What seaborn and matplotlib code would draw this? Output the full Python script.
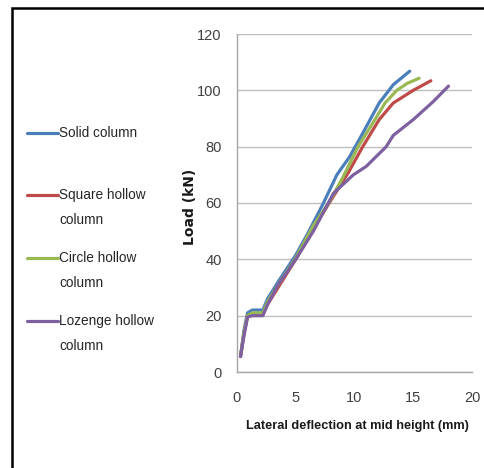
import matplotlib
matplotlib.use('Agg')
import matplotlib.pyplot as plt
from matplotlib.lines import Line2D
from matplotlib.patches import Rectangle
import numpy as np
import pandas as pd
import seaborn as sns

# Load-deflection data
series_names = ['Solid column', 'Square hollow\ncolumn', 'Circle hollow\ncolumn', 'Lozenge hollow\ncolumn']
colors = ['#4A7EBB', '#BE4B48', '#98B954', '#7D60A0']

solid_x = [0.3, 0.6, 0.9, 1.3, 2.2, 2.6, 3.5, 5.0, 6.0, 7.3, 8.5, 9.6, 10.6, 12.1, 13.3, 14.7]
solid_y = [5.5, 15, 21, 22, 22, 26, 32, 41.5, 49, 59.5, 70, 76.5, 84, 95.5, 102, 106.8]

square_x = [0.3, 0.6, 0.9, 1.3, 2.2, 2.6, 3.5, 5.0, 6.5, 8.0, 9.5, 10.7, 12.1, 13.3, 15.0, 16.5]
square_y = [5.5, 14, 20, 20.5, 20.5, 24, 30, 40, 51, 61, 71, 80, 89.6, 95.5, 100, 103.4]

circle_x = [0.3, 0.6, 0.9, 1.3, 2.2, 2.6, 3.5, 5.0, 6.5, 7.8, 9.0, 10.3, 11.5, 12.6, 13.6, 14.5, 15.5]
circle_y = [5.5, 14, 20, 21, 21, 25, 31, 40.5, 52, 60, 69, 80, 88, 95.5, 100, 102.5, 104.3]

lozenge_x = [0.3, 0.6, 0.9, 1.3, 2.2, 2.6, 3.5, 5.0, 6.5, 8.2, 9.9, 11.0, 12.7, 13.3, 15.0, 16.7, 18.0]
lozenge_y = [5.5, 13, 19.5, 20, 20, 24, 31, 40, 50, 63.4, 70, 73, 80, 84, 89.6, 96, 101.5]

x_ticks = [0, 5, 10, 15, 20]
y_ticks = [0, 20, 40, 60, 80, 100, 120]

sns.set_style('white')
plt.rcParams['font.family'] = ['Liberation Sans', 'DejaVu Sans']

frames = []
for name, xs, ys in zip(series_names, [solid_x, square_x, circle_x, lozenge_x],
                        [solid_y, square_y, circle_y, lozenge_y]):
    frames.append(pd.DataFrame({'x': xs, 'y': ys, 'series': name}))
df = pd.concat(frames, ignore_index=True)

W, H = 485, 468
fig = plt.figure(figsize=(W / 100, H / 100), dpi=100)
ax = fig.add_axes([237 / W, 1 - 372 / H, 235 / W, 338 / H])

sns.lineplot(data=df, x='x', y='y', hue='series', palette=colors, sort=False,
             linewidth=2.3, legend=False, ax=ax, estimator=None, units='series')

ax.set_xlim(0, 20)
ax.set_ylim(0, 120)
ax.set_xticks(x_ticks)
ax.set_yticks(y_ticks)
ax.yaxis.grid(True, color='#BFBFBF', linewidth=1)
ax.xaxis.grid(False)
ax.set_axisbelow(True)
for s in ['top', 'right']:
    ax.spines[s].set_visible(False)
for s in ['left', 'bottom']:
    ax.spines[s].set_color('#A6A6A6')
    ax.spines[s].set_linewidth(1)
ax.tick_params(axis='both', which='major', direction='out', length=3, width=1,
               color='#A6A6A6', labelcolor='#404040', labelsize=10.5)
ax.tick_params(axis='x', pad=11)
ax.tick_params(axis='y', pad=8)

ax.set_xlabel('Lateral deflection at mid height (mm)', fontsize=9.2, fontweight='bold', color='#1a1a1a')
ax.xaxis.set_label_coords(0.513, -0.16)
ax.xaxis.label.set_va('center')
ax.set_ylabel('Load (kN)', fontsize=10, fontweight='bold', family='DejaVu Sans', color='#1a1a1a')
ax.yaxis.set_label_coords(-0.2, 0.488)
ax.yaxis.label.set_va('center')

# legend drawn at the left, handle aligned with first label line
leg_y = [133, 195, 258, 321]
for name, c, yy in zip(series_names, colors, leg_y):
    fig.add_artist(Line2D([27 / W, 58 / W], [1 - yy / H, 1 - yy / H], color=c, linewidth=2.3,
                          transform=fig.transFigure))
    for k, line in enumerate(name.split('\n')):
        fig.text(59 / W, 1 - (yy + 25 * k) / H, line, fontsize=9.8, color='#262626',
                 ha='left', va='center')

# outer frame
fig.add_artist(Rectangle((12 / W, -0.1), 1.2, 1 - 8 / H + 0.1, fill=False, edgecolor='black',
                         linewidth=1.8, transform=fig.transFigure))

fig.savefig('out.png', dpi=100)
